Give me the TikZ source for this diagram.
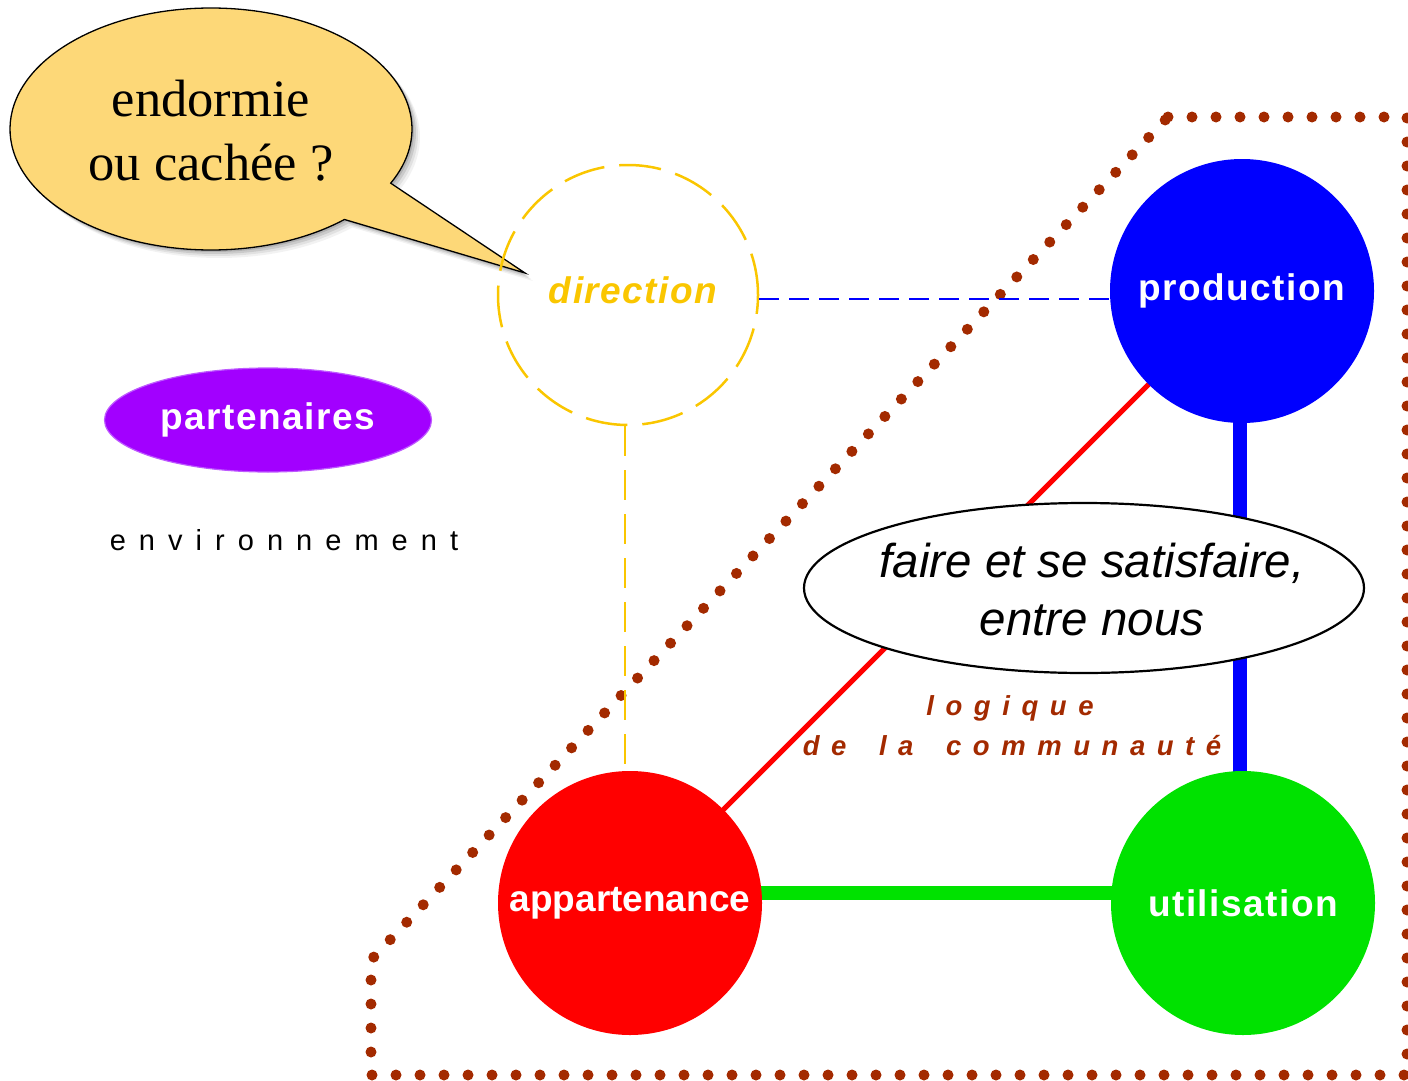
\documentclass[tikz,border=0pt]{standalone}
\usepackage{fontspec}
\setmainfont{Liberation Sans}
\newfontfamily\bubblefont{Liberation Serif}
\newfontfamily\spacedfont[LetterSpace=45]{Liberation Sans}
\newfontfamily\rustfont[LetterSpace=42,WordSpace=1.7]{Liberation Sans}
\newfontfamily\widefont[LetterSpace=4]{Liberation Sans}
\usetikzlibrary{calc,shapes.geometric}

\definecolor{bubblefill}{RGB}{253,216,120}
\definecolor{dirgold}{RGB}{250,198,0}
\definecolor{prodblue}{RGB}{0,0,255}
\definecolor{appred}{RGB}{255,0,0}
\definecolor{usegreen}{RGB}{0,226,0}
\definecolor{partpurple}{RGB}{162,0,255}
\definecolor{partedge}{RGB}{190,90,255}
\definecolor{rust}{RGB}{163,42,0}

\begin{document}
\begin{tikzpicture}[x=1pt,y=-1pt,
  pole/.style={circle, minimum size=264pt, inner sep=0pt, text=white,
    font=\widefont\bfseries\fontsize{37}{40}\selectfont},
  bubble path/.style={insert path={
    (211,129) ++(48.4:201 and 121)
    arc[start angle=48.4, end angle=386.6, x radius=201, y radius=121]
    -- (525,273) -- cycle}},
  link/.style={line width=#1},
  dotted border/.style={rust, line width=11pt, line cap=round,
    dash pattern=on 0pt off 24pt},
  rustlabel/.style={text=rust, anchor=base,
    font=\rustfont\bfseries\itshape\fontsize{27.5}{40}\selectfont},
]
\useasboundingbox (0,0) rectangle (1408,1081);

% speech bubble with a soft shadow
\foreach \s/\o in {8/0.05,6/0.07,4/0.10,2/0.12}{
  \fill[black, opacity=\o, xshift=\s pt, yshift=-\s pt, bubble path];
}
\draw[fill=bubblefill, draw=black, line width=1.3pt, bubble path];
\node[font=\bubblefont\fontsize{52.5}{64}\selectfont, align=center]
  (question) at (211,131) {endormie\\ou cachée ?};

% partners and environment
\node[ellipse, minimum width=327pt, minimum height=104pt, fill=partpurple,
  draw=partedge, line width=1.2pt, text=white, inner sep=0pt,
  font=\widefont\bfseries\fontsize{37}{40}\selectfont]
  (partenaires) at (268,420) {partenaires};
\node[font=\spacedfont\fontsize{29}{34}\selectfont, anchor=base]
  (environnement) at (284,550) {environnement};

% community boundary
\coordinate (b1) at (1168,117);
\coordinate (b2) at (1407,117);
\coordinate (b3) at (1407,1075);
\coordinate (b4) at (371,1075);
\coordinate (b5) at (371,960);
\draw[dotted border] (b1) -- (b2) -- (b3) -- (b4) -- (b5) -- cycle;

% pole positions
\coordinate (cdir) at (628,295);
\coordinate (cprod) at (1242,291);
\coordinate (capp) at (630,903);
\coordinate (cuse) at (1243,903);

% the hidden direction pole
\node[circle, minimum size=260pt, inner sep=0pt, draw=dirgold, line width=2.5pt,
  dash pattern=on 42pt off 15pt] (direction) at (cdir) {};
\node[text=dirgold, font=\widefont\bfseries\itshape\fontsize{37}{40}\selectfont]
  (directionlabel) at (633,290) {direction};

% connectors
\draw[prodblue, line width=2.2pt, dash pattern=on 20pt off 10pt]
  ([yshift=-4pt]direction.east) -- ([yshift=-4pt]direction.east -| cprod);
\draw[dirgold, line width=2.2pt, dash pattern=on 30pt off 14pt]
  ([xshift=-3pt]direction.south) -- ([xshift=-3pt]direction.south |- capp);
\draw[appred, link=5pt] (capp) -- (cprod);
\draw[prodblue, link=14pt] ([xshift=-2pt]cprod) -- ([xshift=-2pt]cprod |- cuse);
\draw[usegreen, link=14pt] ([yshift=10pt]capp) -- ([yshift=10pt]cuse);

% the three active poles
\node[pole, fill=prodblue] (production) at (cprod) {production};
\node[pole, fill=appred, font=\bfseries\fontsize{37}{40}\selectfont]
  (appartenance) at (capp) {appartenance};
\node[pole, fill=usegreen] (utilisation) at (cuse) {utilisation};

% central statement
\node[ellipse, minimum width=560pt, minimum height=170pt, inner sep=0pt,
  draw=black, fill=white, line width=2.2pt] (statement) at (1084,588) {};
\node[align=center, font=\itshape\fontsize{47.5}{58}\selectfont]
  (statementtext) at (1092,590) {faire et se satisfaire,\\entre nous};

\node[rustlabel] (logique) at (1010,715) {logique};
\node[rustlabel] (communaute) at (1012,755) {de la communauté};
\end{tikzpicture}
\end{document}
